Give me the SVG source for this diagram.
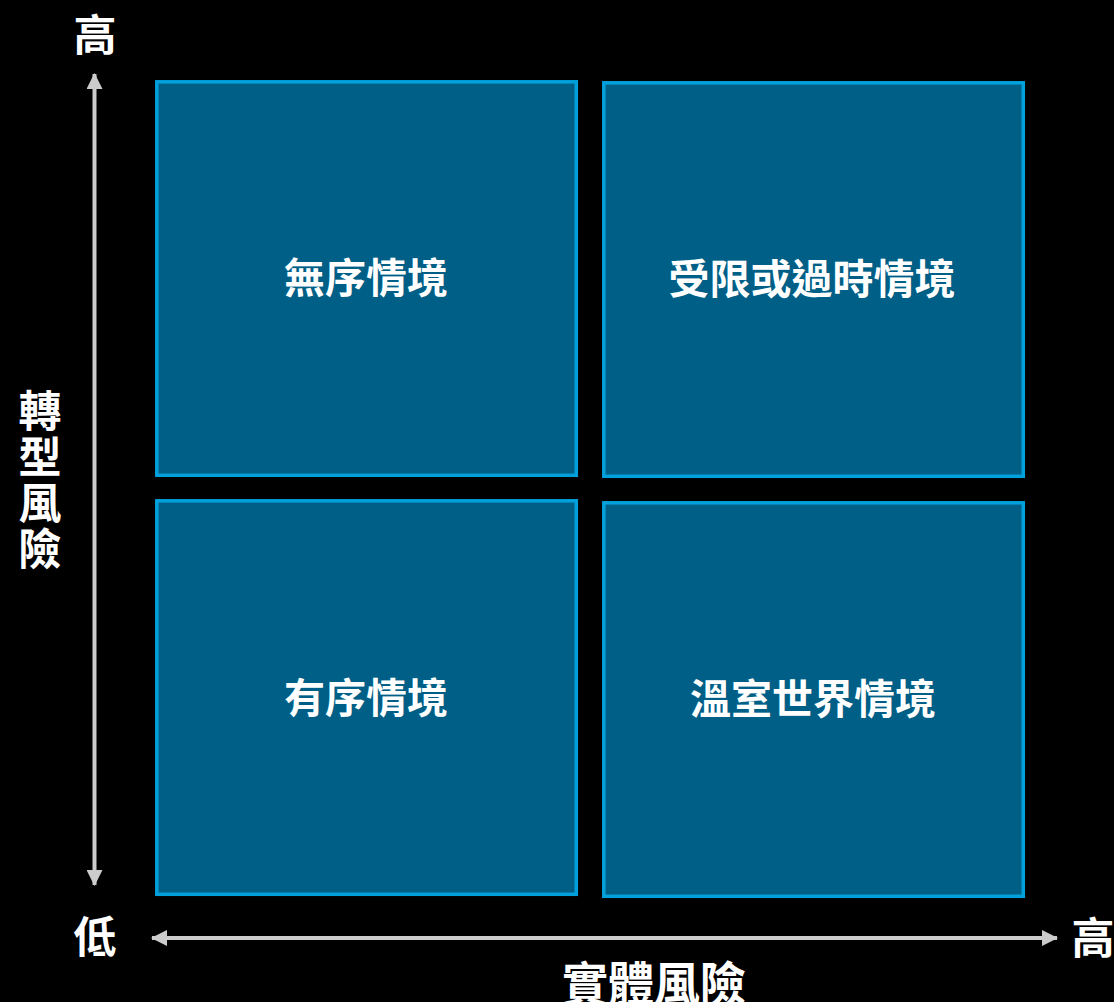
<svg xmlns="http://www.w3.org/2000/svg" width="1114" height="1002" viewBox="0 0 1114 1002">
<style>
.box{fill:#005f87;stroke:#00a1dc;stroke-width:3.5}
.lbl{font-family:"Noto Sans CJK TC","Noto Sans CJK SC",sans-serif;font-weight:700;font-size:41px;fill:#ffffff;text-anchor:middle;dominant-baseline:central}
.ax{font-family:"Noto Sans CJK TC","Noto Sans CJK SC",sans-serif;font-weight:700;font-size:43px;fill:#ffffff;text-anchor:middle;dominant-baseline:central}
.axl{stroke:#cccccc;stroke-width:4;fill:none}
</style>
<defs>
<marker id="ah" viewBox="0 0 16 16" refX="15" refY="8" markerWidth="16" markerHeight="16" markerUnits="userSpaceOnUse" orient="auto-start-reverse">
<path d="M0,0 L16,8 L0,16 Z" fill="#cccccc"/>
</marker>
</defs>
<rect width="1114" height="1002" fill="#000000"/>
<g id="connectors">
<line class="axl" x1="94.5" y1="74" x2="94.5" y2="885" marker-start="url(#ah)" marker-end="url(#ah)"/>
<line class="axl" x1="152" y1="938" x2="1057" y2="938" marker-start="url(#ah)" marker-end="url(#ah)"/>
</g>
<g id="node-chaotic">
<rect class="box" x="156.8" y="81.8" width="419.5" height="393.5"/>
<text class="lbl" x="366" y="275">無序情境</text>
</g>
<g id="node-restricted">
<rect class="box" x="603.8" y="82.8" width="419.5" height="393.5"/>
<text class="lbl" x="812" y="275.5">受限或過時情境</text>
</g>
<g id="node-orderly">
<rect class="box" x="156.8" y="500.8" width="419.5" height="393.5"/>
<text class="lbl" x="366" y="694.5">有序情境</text>
</g>
<g id="node-hothouse">
<rect class="box" x="603.8" y="502.8" width="419.5" height="393.5"/>
<text class="lbl" x="813" y="695.5">溫室世界情境</text>
</g>
<g id="axis-labels">
<text class="ax" x="95" y="32">高</text>
<text class="ax" x="95" y="934">低</text>
<text class="ax" x="1093" y="935">高</text>
<text class="ax" x="654" y="980" style="font-size:46px">實體風險</text>
<text class="ax" x="40" y="481" style="writing-mode:vertical-rl;letter-spacing:3px">轉型風險</text>
</g>
</svg>
